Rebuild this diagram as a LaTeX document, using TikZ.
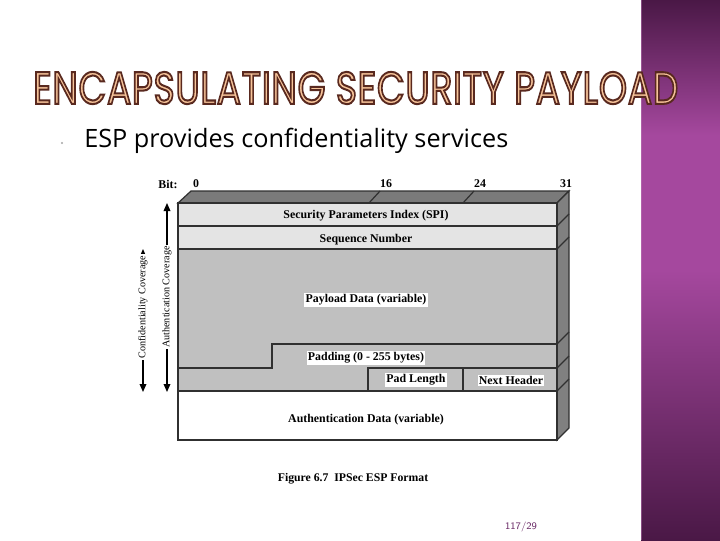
\documentclass[tikz,border=0pt]{standalone}
\usepackage{fontspec}
\usepackage{graphicx}
\setmainfont{Liberation Serif}
\newfontfamily\titlefont[LetterSpace=2]{Poppins}
\newfontfamily\bodyfont{Open Sans}
\usetikzlibrary{arrows.meta}
\definecolor{rowlight}{HTML}{E4E4E4}
\definecolor{rowgray}{HTML}{C0C0C0}
\definecolor{topface}{HTML}{7A7A7A}
\definecolor{sideface}{HTML}{808080}
\definecolor{edge}{HTML}{303030}
\definecolor{purpdark}{HTML}{4A1846}
\definecolor{purpmid}{HTML}{A5489E}
\definecolor{titlefill}{HTML}{F7C49A}
\definecolor{pagenum}{HTML}{6A2A66}
\newcommand\outlinedtext[1]{\special{pdf:code q 2 Tr 0.45 w 0.35 0.16 0.12 RG}#1\special{pdf:code Q}}
\tikzset{
  fieldtext/.style={font=\fontsize{8.9pt}{10pt}\selectfont\bfseries, inner sep=1pt},
  whitebox/.style={fieldtext, fill=white},
  bitlabel/.style={font=\fontsize{8.9pt}{10pt}\selectfont\bfseries, inner sep=0pt},
  covlabel/.style={font=\fontsize{7.6pt}{8pt}\selectfont, rotate=90, fill=white, inner sep=1pt},
  covarrow/.style={line width=0.9pt, {Triangle[length=6pt,width=5pt]}-{Triangle[length=6pt,width=5pt]}},
  boxline/.style={draw=edge, line width=0.9pt},
}
\begin{document}
\begin{tikzpicture}[x=0.75pt,y=-0.75pt]
\useasboundingbox (0,0) rectangle (720,540);
\fill[white] (0,0) rectangle (720,540);
% right purple panel
\shade[top color=purpdark, bottom color=purpmid, middle color=purpmid] (641,0) rectangle (720,270);
\shade[top color=purpmid, bottom color=purpdark] (641,270) rectangle (720,540);
\draw[purpmid!70!white, line width=0.6pt, opacity=0.5] (641.5,0) -- (641.5,540);
% title
\node[anchor=west, inner sep=0pt] (title) at (33,88) {\resizebox{483.75pt}{24pt}{\titlefont\color{titlefill}\outlinedtext{ENCAPSULATING SECURITY PAYLOAD}}};
% bullet
\fill[gray!70] (62,143) circle (1.1);
\node[anchor=west, inner sep=0pt] (sub) at (84,141) {\resizebox{318pt}{!}{\bodyfont\fontsize{16.5pt}{20pt}\selectfont ESP provides confidentiality services}};
% top and side faces
\filldraw[boxline, fill=topface] (178,203) -- (191,191) -- (569,191) -- (557,203) -- cycle;
\filldraw[boxline, fill=sideface] (557,203) -- (569,191) -- (569,428) -- (557,440) -- cycle;
\draw[boxline] (369,203) -- (380,191);
\draw[boxline] (463,203) -- (474,191);
\foreach \yy in {226,249,344,368,391} \draw[boxline] (557,\yy) -- (569,\yy-12);
% rows
\filldraw[boxline, fill=rowlight] (178,203) rectangle (557,226);
\filldraw[boxline, fill=rowlight] (178,226) rectangle (557,249);
\filldraw[boxline, fill=rowgray] (178,249) rectangle (557,391);
\draw[boxline] (178,368) -- (272,368) -- (272,344) -- (557,344);
\draw[boxline] (368,391) -- (368,368) -- (557,368);
\draw[boxline] (463,368) -- (463,391);
\filldraw[boxline, fill=white] (178,391) rectangle (557,440);
% field labels
\node[fieldtext] (spi) at (366,216) {Security Parameters Index (SPI)};
\node[fieldtext] (seq) at (366,240) {Sequence Number};
\node[whitebox] (payload) at (366,300) {Payload Data (variable)};
\node[whitebox] (padding) at (366,358) {Padding (0 - 255 bytes)};
\node[whitebox] (padlen) at (416,380) {Pad Length};
\node[whitebox] (nexthdr) at (511,380) {Next Header};
\node[fieldtext] (auth) at (366,420) {Authentication Data (variable)};
% bit labels
\node[bitlabel] (bit) at (168,184) {Bit:};
\node[bitlabel] (b0) at (196,184) {0};
\node[bitlabel] (b16) at (386,184) {16};
\node[bitlabel] (b24) at (480,184) {24};
\node[bitlabel] (b31) at (566,184) {31};
% coverage arrows
\coordinate (authtop) at (167,203);
\coordinate (authbot) at (167,392);
\coordinate (conftop) at (143,249);
\coordinate (confbot) at (143,392);
\draw[covarrow] (authtop) -- (authbot);
\draw[covarrow] (conftop) -- (confbot);
\node[covlabel] (authcov) at (167,297) {Authentication Coverage};
\node[covlabel] (confcov) at (143,307) {Confidentiality Coverage};
% caption
\node[bitlabel, font=\fontsize{8.8pt}{10pt}\selectfont\bfseries] (caption) at (353,479) {Figure 6.7\enspace IPSec ESP Format};
% page number
\node[inner sep=0pt, text=pagenum, font=\fontsize{7.5pt}{9pt}\selectfont\sffamily] (page) at (521,527) {117/29};
\end{tikzpicture}
\end{document}
